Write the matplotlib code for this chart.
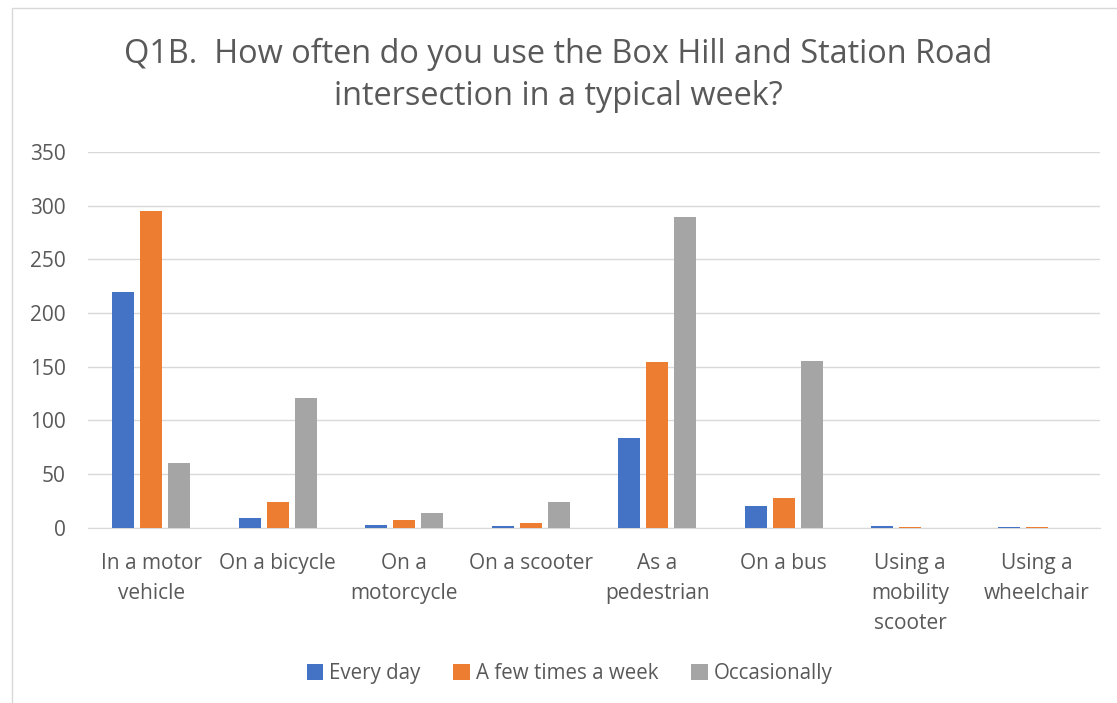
import matplotlib.pyplot as plt
import numpy as np
from matplotlib.patches import Rectangle

categories = ['In a motor\nvehicle', 'On a bicycle', 'On a\nmotorcycle', 'On a scooter',
              'As a\npedestrian', 'On a bus', 'Using a\nmobility\nscooter', 'Using a\nwheelchair']
every_day = [220, 9, 3, 2, 84, 20, 2, 1]
few_times = [295, 24, 7, 5, 154, 28, 1, 1]
occasionally = [60, 121, 14, 24, 289, 155, 0, 0]
series = [('Every day', every_day, '#4472c4'),
          ('A few times a week', few_times, '#ed7d31'),
          ('Occasionally', occasionally, '#a5a5a5')]

plt.rcParams['font.family'] = ['Open Sans', 'DejaVu Sans']
txt = '#595959'

fig = plt.figure(figsize=(11.17, 7.03), dpi=100)
ax = fig.add_axes([0.0788, 0.249, 0.906, 0.535])
fig.patches.append(Rectangle((12 / 1117, -0.01), 1.1, 1 - 8 / 703 + 0.01,
                             transform=fig.transFigure, fill=False,
                             edgecolor='#d9d9d9', linewidth=1))

x = np.arange(len(categories))
w = 0.174
step = 0.221
for i, (name, vals, col) in enumerate(series):
    ax.bar(x + (i - 1) * step, vals, w, color=col, label=name, zorder=3)

ax.set_xlim(-0.5, len(categories) - 0.5)
ax.set_ylim(0, 350)
ax.set_yticks(range(0, 351, 50))
ax.grid(axis='y', color='#d9d9d9', linewidth=1, zorder=0)
for s in ['top', 'right', 'left']:
    ax.spines[s].set_visible(False)
ax.spines['bottom'].set_color('#d9d9d9')
ax.tick_params(length=0, labelsize=15, colors=txt)
ax.set_xticks(x)
ax.set_xticklabels(categories, linespacing=1.55)
ax.tick_params(axis='x', pad=18)
ax.tick_params(axis='y', pad=16)

fig.text(0.5, 0.893, 'Q1B.  How often do you use the Box Hill and Station Road\nintersection in a typical week?',
         ha='center', va='center', fontsize=23.4, color=txt, linespacing=1.35)

fig.legend(loc='center', bbox_to_anchor=(0.51, 0.042), ncol=3, frameon=False,
           fontsize=14.8, labelcolor=txt, handlelength=0.8, handleheight=0.8,
           handletextpad=0.3, columnspacing=1.6)

fig.savefig('out.png', dpi=100)
